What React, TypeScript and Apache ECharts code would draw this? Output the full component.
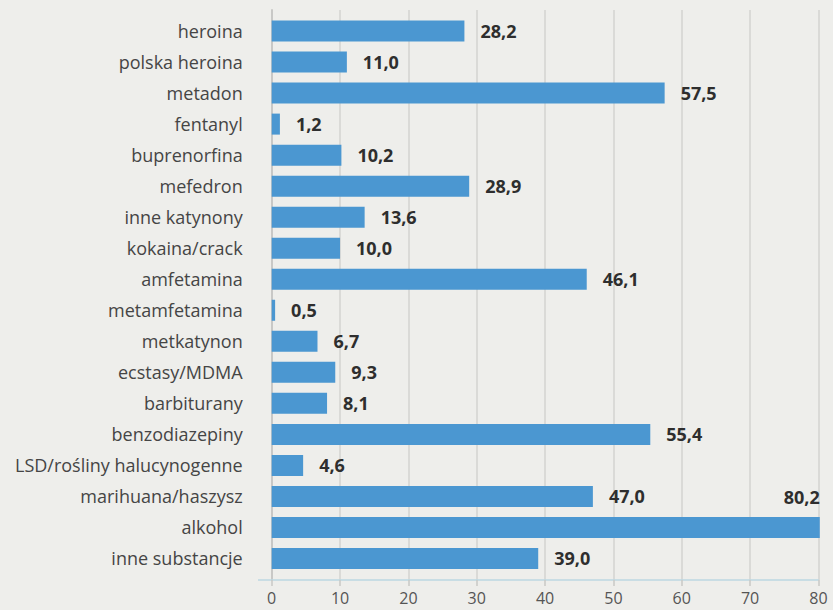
import React, { useEffect, useRef } from "react";
import * as echarts from "echarts";

const categories = [
  "heroina",
  "polska heroina",
  "metadon",
  "fentanyl",
  "buprenorfina",
  "mefedron",
  "inne katynony",
  "kokaina/crack",
  "amfetamina",
  "metamfetamina",
  "metkatynon",
  "ecstasy/MDMA",
  "barbiturany",
  "benzodiazepiny",
  "LSD/rośliny halucynogenne",
  "marihuana/haszysz",
  "alkohol",
  "inne substancje",
];

const values = [28.2, 11.0, 57.5, 1.2, 10.2, 28.9, 13.6, 10.0, 46.1, 0.5, 6.7, 9.3, 8.1, 55.4, 4.6, 47.0, 80.2, 39.0];

const xMin = 0;
const xMax = 80;
const xStep = 10;

const FONT = "'Open Sans', sans-serif";

export default function App() {
  const ref = useRef<HTMLDivElement>(null);

  useEffect(() => {
    if (!ref.current) return;
    const chart = echarts.init(ref.current, null, { renderer: "svg" });
    const left = 271.7;
    const right = 14.6;
    const fmt = (v: number) => v.toFixed(1).replace(".", ",");
    const barData = values.map((v) => {
      if (v >= xMax) {
        return {
          value: v,
          label: {
            position: ["100%", -11],
            align: "right",
            verticalAlign: "bottom",
          },
        };
      }
      return { value: v };
    });
    chart.setOption({
      animation: false,
      backgroundColor: "#eeeeeb",
      grid: [
        { left, right, top: 10, bottom: 30 },
        { left, right, top: 15.5, bottom: 36 },
      ],
      graphic: [
        {
          type: "line",
          shape: { x1: 258, y1: 580, x2: left, y2: 580 },
          style: { stroke: "#bcd7e2", lineWidth: 1.5 },
        },
      ],
      xAxis: [
        {
          type: "value",
          gridIndex: 0,
          min: xMin,
          max: xMax,
          interval: xStep,
          axisLine: { show: true, lineStyle: { color: "#bcd7e2", width: 1.5 } },
          axisTick: { show: true, length: 6, lineStyle: { color: "#c8c8c6", width: 1.5 } },
          splitLine: { show: true, lineStyle: { color: "#d3d3d0", width: 1.5 } },
          axisLabel: {
            color: "#555555",
            fontFamily: FONT,
            fontSize: 16,
            lineHeight: 16,
            margin: 10,
          },
        },
        {
          type: "value",
          gridIndex: 1,
          min: xMin,
          max: xMax,
          show: false,
        },
      ],
      yAxis: [
        {
          type: "value",
          gridIndex: 0,
          min: 0,
          max: 1,
          axisLine: { show: true, lineStyle: { color: "#c8c8c6", width: 2 } },
          axisTick: { show: false },
          axisLabel: { show: false },
          splitLine: { show: false },
        },
        {
          type: "category",
          gridIndex: 1,
          data: categories,
          inverse: true,
          axisLine: { show: false },
          axisTick: { show: false },
          splitLine: { show: false },
          axisLabel: {
            color: "#454545",
            fontFamily: FONT,
            fontSize: 18,
            margin: 29,
          },
        },
      ],
      series: [
        {
          type: "bar",
          xAxisIndex: 1,
          yAxisIndex: 1,
          data: barData,
          barWidth: 21,
          clip: false,
          itemStyle: { color: "#4b97d1" },
          label: {
            show: true,
            position: "right",
            distance: 16,
            color: "#2e2e2e",
            fontFamily: FONT,
            fontWeight: "bold",
            fontSize: 18,
            formatter: (p: any) => fmt(p.value),
          },
        },
      ],
    });
    return () => chart.dispose();
  }, []);

  return (
    <div
      ref={ref}
      style={{ position: "fixed", left: 0, top: 0, width: 833, height: 610, background: "#eeeeeb" }}
    />
  );
}
